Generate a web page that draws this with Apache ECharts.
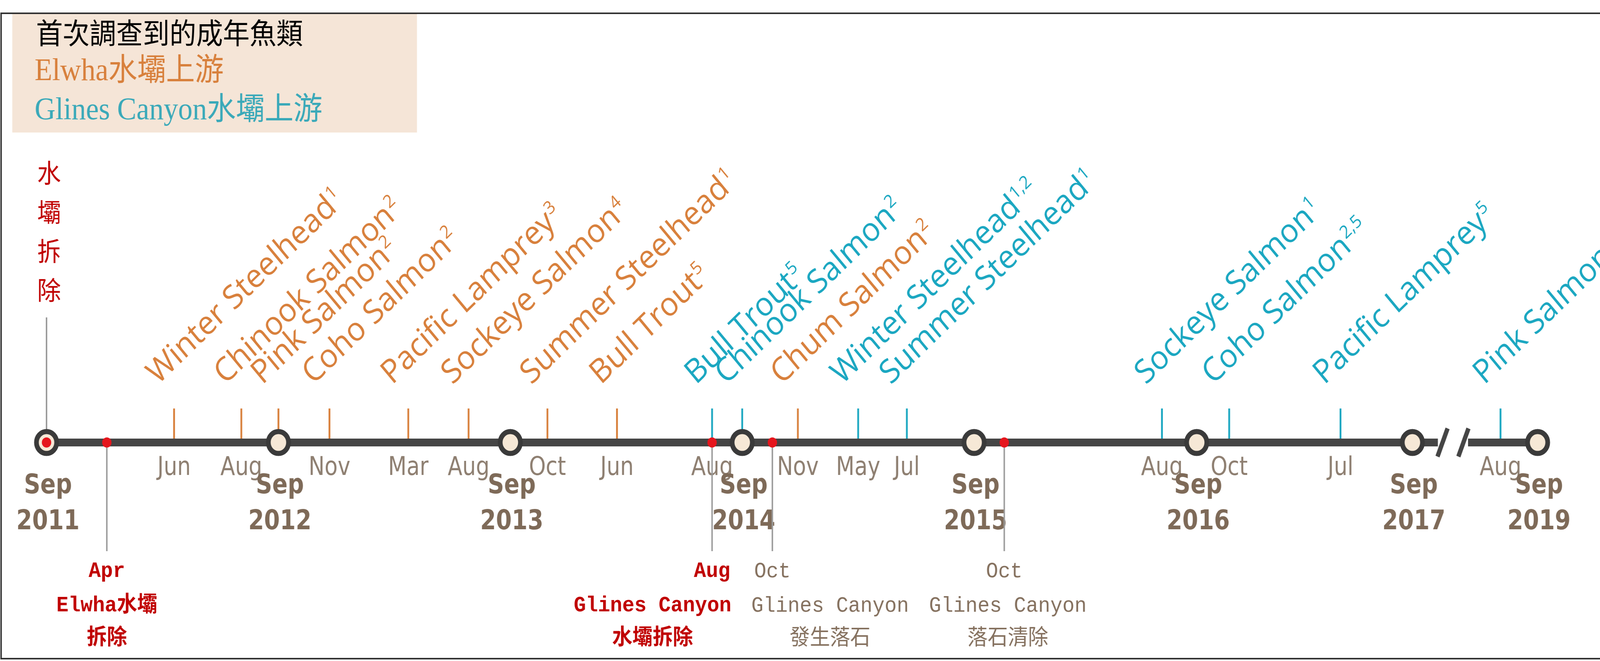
<!DOCTYPE html>
<html>
<head>
<meta charset="utf-8">
<script src="https://cdn.jsdelivr.net/npm/echarts@6/dist/echarts.min.js"></script>
<style>html,body{margin:0;padding:0;background:#fff;overflow:hidden}#chart{width:4436px;height:1691px;transform-origin:0 0}</style>
</head>
<body>
<div id="chart"></div>
<script>
// positions in "years after Sep 2011" as read along the drawn timeline
var yearPos = [0, 1, 2, 3, 4, 4.96, 5.89, 6.43];
var yearLabels = ['2011', '2012', '2013', '2014', '2015', '2016', '2017', '2019'];

var fishPos = [0.55, 0.84, 1.0, 1.22, 1.56, 1.82, 2.16, 2.46, 2.87, 3.0, 3.24, 3.50, 3.71, 4.81, 5.10, 5.58, 6.27];
var fishNames = ['Winter Steelhead', 'Chinook Salmon', 'Pink Salmon', 'Coho Salmon', 'Pacific Lamprey', 'Sockeye Salmon',
  'Summer Steelhead', 'Bull Trout', 'Bull Trout', 'Chinook Salmon', 'Chum Salmon', 'Winter Steelhead', 'Summer Steelhead',
  'Sockeye Salmon', 'Coho Salmon', 'Pacific Lamprey', 'Pink Salmon'];
var fishNotes = ['1', '2', '2', '2', '3', '4', '1', '5', '5', '2', '2', '1,2', '1', '1', '2,5', '5', '1'];
var fishDam = ['E', 'E', 'E', 'E', 'E', 'E', 'E', 'E', 'G', 'G', 'E', 'G', 'G', 'G', 'G', 'G', 'G'];
var fishMonth = ['Jun', 'Aug', '', 'Nov', 'Mar', 'Aug', 'Oct', 'Jun', 'Aug', '', 'Nov', 'May', 'Jul', 'Aug', 'Oct', 'Jul', 'Aug'];

var eventPos = [0.26, 2.87, 3.13, 4.13];
var eventMonth = ['Apr', 'Aug', 'Oct', 'Oct'];
var eventLines = [['Elwha水壩', '拆除'], ['Glines Canyon', '水壩拆除'], ['Glines Canyon', '發生落石'], ['Glines Canyon', '落石清除']];
var eventKind = ['removal', 'removal', 'rock', 'rock'];

var ORANGE = '#d8803c', CYAN = '#1ba7c1', RED = '#c00000', BROWN = '#85715f', LINE = '#454545';
var LINE_Y = 1132;
var textShift = [0, -165, 160, 10];
var NARROW = '"DejaVu Sans Condensed", "Liberation Sans Narrow", "DejaVu Sans"';

// the page is drawn at 4436x1691 and fitted into whatever viewport we get
var el = document.getElementById('chart');
el.style.transform = 'scale(' + (window.innerWidth / 4436) + ',' + (window.innerHeight / 1691) + ')';

var chart = echarts.init(el);

chart.setOption({
  animation: false,
  grid: { left: 129, right: 173, top: 0, bottom: 0 },
  xAxis: { type: 'value', min: 0, max: 6.43, show: false },
  yAxis: { type: 'value', min: 0, max: 1, show: false },
  graphic: [
    { type: 'rect', shape: { x: 3, y: 34, width: 4460, height: 1651 }, style: { fill: 'none', stroke: '#333', lineWidth: 4 }, z: 100 },
    { type: 'rect', shape: { x: 34, y: 34, width: 1122, height: 305 }, style: { fill: '#f5e5d7' } },
    { type: 'text', x: 100, y: 84, style: { text: '首次調查到的成年魚類', font: '74px "Noto Sans CJK TC"', fill: '#000', textVerticalAlign: 'middle' } },
    { type: 'text', x: 96, y: 184, style: { text: 'Elwha水壩上游', font: '80px "Liberation Serif", "Noto Sans CJK TC"', fill: ORANGE, textVerticalAlign: 'middle' } },
    { type: 'text', x: 96, y: 284, style: { text: 'Glines Canyon水壩上游', font: '80px "Liberation Serif", "Noto Sans CJK TC"', fill: '#3aa9b9', textVerticalAlign: 'middle' } },
    { type: 'text', x: 136, y: 592, style: { text: '水\n壩\n拆\n除', font: '66px "Noto Sans CJK TC"', lineHeight: 100, fill: RED, textAlign: 'center', textVerticalAlign: 'middle' } }
  ],
  series: [
    { // main timeline with break
      type: 'custom', z: 2,
      data: [[0, 6.0], [6.13, 6.43]],
      renderItem: function (params, api) {
        var a = api.coord([api.value(0), 0]), b = api.coord([api.value(1), 0]);
        var kids = [{ type: 'line', shape: { x1: a[0], y1: LINE_Y, x2: b[0], y2: LINE_Y }, style: { stroke: LINE, lineWidth: 20 } }];
        if (params.dataIndex === 0) {
          [6.02, 6.11].forEach(function (p) {
            var c = api.coord([p, 0]);
            kids.push({ type: 'line', shape: { x1: c[0] - 14, y1: LINE_Y + 36, x2: c[0] + 14, y2: LINE_Y - 36 }, style: { stroke: LINE, lineWidth: 12 } });
          });
        }
        return { type: 'group', children: kids };
      }
    },
    { // fish ticks, names and months
      type: 'custom', z: 1,
      data: fishPos.map(function (p, i) { return [p, i]; }),
      renderItem: function (params, api) {
        var i = api.value(1), x = api.coord([api.value(0), 0])[0];
        var col = fishDam[i] === 'E' ? ORANGE : CYAN;
        var kids = [
          { type: 'line', shape: { x1: x, y1: 1045, x2: x, y2: LINE_Y }, style: { stroke: col, lineWidth: 5 } },
          { type: 'text', x: x - 32, y: 1000, rotation: 42 * Math.PI / 180,
            style: { text: '{n|' + fishNames[i] + '}{s|' + fishNotes[i] + '}', textAlign: 'left', textVerticalAlign: 'bottom',
              rich: { n: { font: '84px "Open Sans"', fill: col }, s: { font: '46px "Open Sans"', fill: col, verticalAlign: 'top', padding: [0, 0, 40, 2] } } } }
        ];
        if (fishMonth[i]) {
          kids.push({ type: 'text', x: x, y: 1198, style: { text: fishMonth[i], font: '66px ' + NARROW, fill: '#8e7f71', textAlign: 'center', textVerticalAlign: 'middle' } });
        }
        return { type: 'group', children: kids };
      }
    },
    { // year circles and labels
      type: 'custom', z: 3,
      data: yearPos.map(function (p, i) { return [p, i]; }),
      renderItem: function (params, api) {
        var i = api.value(1), x = api.coord([api.value(0), 0])[0];
        var kids = [
          { type: 'circle', shape: { cx: x, cy: LINE_Y, r: 28 }, style: { fill: '#f6e8d6', stroke: '#3a3a3a', lineWidth: 13 } },
          { type: 'text', x: x + 4, y: 1290, style: { text: 'Sep\n' + yearLabels[i], font: 'bold 70px ' + NARROW, lineHeight: 92, fill: '#7e6a58', textAlign: 'center', textVerticalAlign: 'middle' } }
        ];
        if (i === 0) {
          kids.unshift({ type: 'line', shape: { x1: x, y1: 812, x2: x, y2: LINE_Y }, style: { stroke: '#999', lineWidth: 4 } });
          kids.push({ type: 'circle', shape: { cx: x, cy: LINE_Y, r: 13 }, style: { fill: '#e5161d' } });
        }
        return { type: 'group', children: kids };
      }
    },
    { // dam events
      type: 'custom', z: 4,
      data: eventPos.map(function (p, i) { return [p, i]; }),
      renderItem: function (params, api) {
        var i = api.value(1), x = api.coord([api.value(0), 0])[0];
        var removal = eventKind[i] === 'removal';
        var col = removal ? RED : BROWN;
        var font = (removal ? 'bold ' : '') + '56px "Liberation Mono", "Noto Sans CJK TC"';
        var tx = x + textShift[i];
        return { type: 'group', children: [
          { type: 'line', shape: { x1: x, y1: LINE_Y, x2: x, y2: 1410 }, style: { stroke: '#999', lineWidth: 4 } },
          { type: 'circle', shape: { cx: x, cy: LINE_Y, r: 13 }, style: { fill: '#e5161d' } },
          { type: 'text', x: x, y: 1462, style: { text: eventMonth[i], font: font, fill: col, textAlign: 'center', textVerticalAlign: 'middle' } },
          { type: 'text', x: tx, y: 1550, style: { text: eventLines[i][0], font: font, fill: col, textAlign: 'center', textVerticalAlign: 'middle' } },
          { type: 'text', x: tx, y: 1634, style: { text: eventLines[i][1], font: font, fill: col, textAlign: 'center', textVerticalAlign: 'middle' } }
        ] };
      }
    }
  ]
});
</script>
</body>
</html>
